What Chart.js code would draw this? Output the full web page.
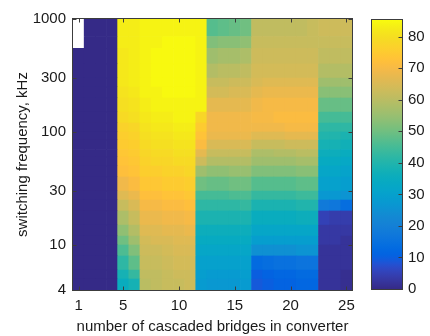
<!DOCTYPE html>
<html>
<head>
<meta charset="utf-8">
<script src="https://cdn.jsdelivr.net/npm/chart.js@4/dist/chart.umd.min.js"></script>
<style>
body { margin: 0; background: #fff; }
#wrap { position: relative; width: 430px; height: 336px; }
#heat { position: absolute; left: 0; top: 0; }
#cbar { position: absolute; left: 365px; top: 0; }
</style>
</head>
<body>
<div id="wrap">
<canvas id="heat" width="365" height="336"></canvas>
<canvas id="cbar" width="65" height="336"></canvas>
</div>
<script>
// x categories and y band edges (kHz)
const bridges = [1, 2, 3, 4, 5, 6, 7, 8, 9, 10, 11, 12, 13, 14, 15, 16, 17, 18, 19, 20, 21, 22, 23, 24, 25];
const freqEdges = [4, 5, 6, 8, 10, 12, 15, 20, 25, 30, 40, 50, 60, 70, 85, 100, 120, 150, 200, 250, 300, 400, 550, 700, 1000];
const xTickValues = [1, 5, 10, 15, 20, 25];
const yTickValues = [4, 10, 30, 100, 300, 1000];
const cbTickValues = [0, 10, 20, 30, 40, 50, 60, 70, 80];
const cMax = 85.3;

// one array per bridge count, values from the lowest band (4 kHz) upward; null = no data
const c1  = [0, 0, 0, 0, 0, 0, 0, 0, 0, 0, 0, 0, 0, 0, 0, 0, 0, 0, 0, 0, 0, 0, null, null];
const c2  = [0, 0, 0, 0, 0, 0, 0, 0, 0, 0, 0, 0, 0, 0, 0, 0, 0, 0, 0, 0, 0, 0, 0, 0];
const c3  = [0, 0, 0, 0, 0, 0, 0, 0, 0, 0, 0, 0, 0, 0, 0, 0, 0, 0, 0, 0, 0, 0, 0, 0];
const c4  = [0, 0, 0, 0, 0, 0, 0, 0, 0, 0, 0, 0, 0, 0, 0, 0, 0, 0, 0, 0, 0, 0, 0, 0];
const c5  = [35, 38, 42, 46, 50, 54, 58, 62, 66, 69, 72, 73, 74, 75, 76, 77, 79, 80, 81, 82, 82, 82, 83, 83];
const c6  = [38, 43, 48, 52, 56, 59, 62, 65, 68, 71, 73, 74, 75, 76, 77, 78, 80, 81, 82, 83, 83, 83, 83, 83];
const c7  = [60, 61, 62, 63, 64, 66, 68, 70, 72, 74, 76, 77, 78, 79, 80, 81, 82, 83, 84, 84, 84, 84, 84, 84];
const c8  = [61, 61, 62, 63, 65, 66, 68, 70, 72, 74, 76, 78, 79, 80, 81, 82, 83, 84, 84, 85, 85, 85, 84, 84];
const c9  = [62, 62, 63, 64, 65, 67, 69, 71, 73, 75, 77, 78, 79, 80, 81, 82, 83, 84, 85, 85, 85, 85, 85, 84];
const c10 = [62, 63, 64, 65, 66, 67, 69, 71, 73, 75, 77, 79, 80, 81, 82, 83, 84, 84, 85, 85, 85, 85, 85, 84];
const c11 = [63, 63, 64, 65, 66, 68, 70, 72, 74, 76, 78, 79, 80, 81, 82, 83, 84, 84, 85, 85, 85, 85, 85, 84];
const c12 = [28, 29, 30, 32, 34, 36, 39, 42, 45, 50, 56, 63, 67, 71, 73, 75, 78, 84, 84, 84, 84, 84, 84, 84];
const c13 = [27, 28, 30, 32, 34, 36, 39, 42, 45, 49, 54, 59, 62, 65, 68, 69, 69, 67, 64, 62, 59, 56, 52, 47];
const c14 = [27, 28, 30, 32, 34, 36, 39, 42, 45, 49, 54, 59, 62, 65, 68, 69, 69, 67, 64, 62, 60, 57, 53, 48];
const c15 = [27, 28, 30, 32, 34, 36, 39, 42, 46, 50, 55, 59, 62, 65, 68, 69, 69, 67, 65, 63, 60, 57, 53, 49];
const c16 = [28, 29, 30, 32, 34, 36, 39, 43, 46, 50, 55, 59, 62, 65, 68, 69, 69, 67, 65, 63, 61, 58, 54, 50];
const c17 = [9, 10, 13, 25, 29, 32, 35, 39, 43, 47, 52, 56, 58, 62, 66, 69, 70, 69, 67, 65, 64, 63, 62, 61];
const c18 = [10, 11, 14, 25, 29, 32, 35, 39, 43, 47, 52, 56, 58, 62, 66, 69, 70, 70, 68, 66, 64, 63, 62, 61];
const c19 = [11, 12, 15, 25, 29, 32, 35, 39, 43, 47, 52, 56, 59, 62, 66, 69, 71, 70, 68, 66, 64, 63, 62, 61];
const c20 = [11, 12, 15, 25, 29, 32, 35, 39, 43, 47, 52, 56, 59, 63, 67, 70, 71, 70, 68, 66, 64, 63, 62, 61];
const c21 = [12, 13, 16, 26, 29, 32, 36, 40, 44, 48, 53, 57, 60, 63, 67, 70, 71, 70, 68, 66, 64, 63, 62, 61];
const c22 = [12, 13, 16, 26, 29, 32, 36, 40, 44, 48, 53, 57, 60, 63, 67, 70, 71, 70, 68, 66, 64, 63, 62, 62];
const c23 = [2, 2, 2, 2, 3, 3, 5, 18, 27, 30, 32, 34, 36, 38, 40, 42, 45, 49, 53, 56, 59, 61, 62, 63];
const c24 = [2, 2, 2, 2, 3, 3, 4, 17, 27, 30, 32, 34, 36, 38, 40, 42, 45, 49, 53, 56, 59, 61, 62, 63];
const c25 = [1, 1, 2, 2, 2, 3, 4, 14, 26, 29, 31, 33, 35, 37, 39, 42, 45, 49, 53, 56, 59, 61, 62, 63];
const columns = [c1, c2, c3, c4, c5, c6, c7, c8, c9, c10, c11, c12, c13, c14, c15, c16, c17, c18, c19, c20, c21, c22, c23, c24, c25];

// matlab parula colormap (64 steps)
const parula = [
  [0.2081,0.1663,0.5292],[0.2116,0.1898,0.5777],[0.2123,0.2138,0.6270],[0.2081,0.2386,0.6771],
  [0.1959,0.2645,0.7279],[0.1707,0.2919,0.7792],[0.1253,0.3242,0.8303],[0.0591,0.3598,0.8683],
  [0.0117,0.3875,0.8820],[0.0060,0.4086,0.8828],[0.0165,0.4266,0.8786],[0.0329,0.4430,0.8720],
  [0.0498,0.4586,0.8641],[0.0629,0.4737,0.8554],[0.0723,0.4887,0.8467],[0.0779,0.5040,0.8384],
  [0.0793,0.5200,0.8312],[0.0749,0.5375,0.8263],[0.0641,0.5570,0.8240],[0.0488,0.5772,0.8228],
  [0.0343,0.5966,0.8199],[0.0265,0.6137,0.8135],[0.0239,0.6287,0.8038],[0.0231,0.6418,0.7913],
  [0.0228,0.6535,0.7768],[0.0267,0.6642,0.7607],[0.0384,0.6743,0.7436],[0.0590,0.6838,0.7254],
  [0.0843,0.6928,0.7062],[0.1133,0.7015,0.6859],[0.1453,0.7098,0.6646],[0.1801,0.7177,0.6424],
  [0.2178,0.7250,0.6193],[0.2586,0.7317,0.5954],[0.3022,0.7376,0.5712],[0.3482,0.7424,0.5473],
  [0.3953,0.7459,0.5244],[0.4420,0.7481,0.5033],[0.4871,0.7491,0.4840],[0.5300,0.7491,0.4661],
  [0.5709,0.7485,0.4494],[0.6099,0.7473,0.4337],[0.6473,0.7456,0.4188],[0.6834,0.7435,0.4044],
  [0.7184,0.7411,0.3905],[0.7525,0.7384,0.3768],[0.7858,0.7356,0.3633],[0.8185,0.7327,0.3498],
  [0.8507,0.7299,0.3360],[0.8824,0.7274,0.3217],[0.9139,0.7258,0.3063],[0.9450,0.7261,0.2886],
  [0.9739,0.7314,0.2666],[0.9938,0.7455,0.2403],[0.9990,0.7653,0.2164],[0.9955,0.7861,0.1967],
  [0.9880,0.8066,0.1794],[0.9789,0.8271,0.1633],[0.9697,0.8481,0.1475],[0.9626,0.8705,0.1309],
  [0.9589,0.8949,0.1132],[0.9598,0.9218,0.0948],[0.9661,0.9514,0.0755],[0.9763,0.9831,0.0538]
];

const textColor = '#1a1a1a';
const axisColor = '#3c3c3c';
const font = { family: '"Liberation Sans", Arial, sans-serif', size: 15 };

function rgb(c) {
  return 'rgb(' + c.map(v => Math.round(v * 255)).join(',') + ')';
}

function parulaColor(v) {
  if (v === null) return '#ffffff';
  const t = Math.min(Math.max(v / cMax, 0), 1) * (parula.length - 1);
  const i = Math.min(Math.floor(t), parula.length - 2);
  const f = t - i;
  const a = parula[i], b = parula[i + 1];
  return rgb([0, 1, 2].map(k => a[k] + (b[k] - a[k]) * f));
}

// axes box with short inward ticks, like matlab
function framePlugin(sides) {
  return {
    id: 'frame',
    afterDatasetsDraw(chart) {
      const { ctx, chartArea: a, scales } = chart;
      const L = Math.round(a.left) - 0.5, R = Math.round(a.right) + 0.5;
      const T = Math.round(a.top) - 0.5, B = Math.round(a.bottom) + 0.5;
      ctx.save();
      ctx.strokeStyle = axisColor;
      ctx.lineWidth = 1;
      ctx.strokeRect(L, T, R - L, B - T);
      ctx.beginPath();
      if (sides.x) {
        const xs = scales.x;
        xs.ticks.forEach((t, i) => {
          if (!xTickValues.includes(bridges[i])) return;
          const px = Math.round(xs.getPixelForTick(i)) + 0.5;
          ctx.moveTo(px, B); ctx.lineTo(px, B - 4);
          ctx.moveTo(px, T); ctx.lineTo(px, T + 4);
        });
      }
      if (sides.y) {
        const ys = scales.y;
        ys.ticks.forEach(t => {
          const py = Math.round(ys.getPixelForValue(t.value)) + 0.5;
          if (sides.yLeft) { ctx.moveTo(L, py); ctx.lineTo(L + 4, py); }
          ctx.moveTo(R, py); ctx.lineTo(R - 4, py);
        });
      }
      ctx.stroke();
      ctx.restore();
    }
  };
}

const datasets = freqEdges.slice(0, -1).map((lo, r) => ({
  data: columns.map(() => [lo, freqEdges[r + 1]]),
  backgroundColor: columns.map(col => parulaColor(col[r])),
  borderWidth: 0,
  grouped: false,
  barPercentage: 1,
  categoryPercentage: 1
}));

new Chart(document.getElementById('heat'), {
  type: 'bar',
  data: { labels: bridges.map(String), datasets: datasets },
  options: {
    responsive: false,
    animation: false,
    events: [],
    layout: { padding: { top: 19, right: 13, left: 0, bottom: 0 } },
    plugins: { legend: { display: false }, tooltip: { enabled: false } },
    scales: {
      x: {
        type: 'category',
        grid: { display: false, drawTicks: false },
        border: { display: false },
        ticks: {
          autoSkip: false, maxRotation: 0, padding: 7, color: textColor, font: font,
          callback: (v, i) => xTickValues.includes(bridges[i]) ? String(bridges[i]) : ''
        },
        title: { display: true, text: 'number of cascaded bridges in converter', color: textColor, font: font, padding: { top: 0, bottom: 0 } },
        afterFit: s => { s.height = 46; }
      },
      y: {
        type: 'logarithmic',
        min: 4,
        max: 1000,
        grid: { display: false, drawTicks: false },
        border: { display: false },
        afterBuildTicks: s => { s.ticks = yTickValues.map(v => ({ value: v })); },
        ticks: { padding: 7, color: textColor, font: font, callback: v => String(v) },
        title: { display: true, text: 'switching frequency, kHz', color: textColor, font: font, padding: { top: 14, bottom: 0 } },
        afterFit: s => { s.width = 73; }
      }
    }
  },
  plugins: [framePlugin({ x: true, y: true, yLeft: true })]
});

function cbGradient(chart) {
  const { ctx, chartArea, scales } = chart;
  if (!chartArea) return null;
  const y0 = scales.y.getPixelForValue(0), y1 = scales.y.getPixelForValue(cMax);
  const g = ctx.createLinearGradient(0, y0, 0, y1);
  parula.forEach((c, i) => g.addColorStop(i / (parula.length - 1), rgb(c)));
  return g;
}

new Chart(document.getElementById('cbar'), {
  type: 'bar',
  data: {
    labels: [''],
    datasets: [{
      data: [[0, cMax]],
      backgroundColor: ctx => cbGradient(ctx.chart),
      borderWidth: 0,
      barPercentage: 1,
      categoryPercentage: 1
    }]
  },
  options: {
    responsive: false,
    animation: false,
    events: [],
    layout: { padding: { left: 7, top: 20, bottom: 47, right: 0 } },
    plugins: { legend: { display: false }, tooltip: { enabled: false } },
    scales: {
      x: { display: false },
      y: {
        position: 'right',
        min: 0,
        max: cMax,
        grid: { display: false, drawTicks: false },
        border: { display: false },
        afterBuildTicks: s => { s.ticks = cbTickValues.map(v => ({ value: v })); },
        ticks: { padding: 6, color: textColor, font: font },
        afterFit: s => { s.width = 28; }
      }
    }
  },
  plugins: [framePlugin({ y: true, yLeft: false })]
});
</script>
</body>
</html>
